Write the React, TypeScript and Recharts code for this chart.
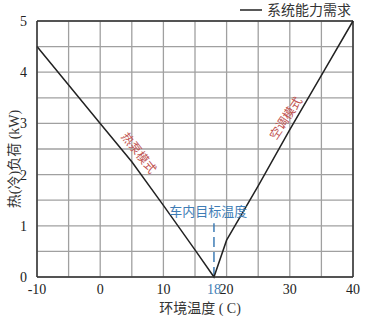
import { LineChart, Line, XAxis, YAxis, CartesianGrid, ReferenceLine, ReferenceDot, Legend } from "recharts";

const temps = [-10, -5, 0, 5, 10, 15, 18, 20, 25, 30, 35, 40];
const loads = [4.5, 3.75, 3.0, 2.25, 1.4, 0.53, 0, 0.72, 1.78, 2.88, 3.94, 5];

const xTicks = [-10, 0, 10, 18, 20, 30, 40];
const yTicks = [0, 1, 2, 3, 4, 5];
const xGrid = [-10, -5, 0, 5, 10, 15, 20, 25, 30, 35, 40];
const yGrid = [0, 0.5, 1, 1.5, 2, 2.5, 3, 3.5, 4, 4.5, 5];

const seriesName = "系统能力需求";
const xTitle = "环境温度 ( C)";
const yTitle = "热(冷)负荷 (kW)";
const targetTemp = 18;

const data = temps.map((t, i) => ({ temp: t, load: loads[i] }));

const FONT = "Liberation Serif, DejaVu Serif, Noto Sans CJK SC, serif";
const RED = "#c0504d";
const BLUE = "#3f7db5";
const GRID = "#a0a0a0";

function XTick(props: any) {
  const { x, y, payload } = props;
  const v = payload.value;
  return (
    <text x={x} y={y + 9} textAnchor="middle" style={{ fontSize: 14, fontFamily: FONT }} fill={v === targetTemp ? BLUE : "#222"}>
      {v}
    </text>
  );
}

function YTick(props: any) {
  const { x, y, payload } = props;
  return (
    <text x={x} y={y + 5} textAnchor="end" style={{ fontSize: 14, fontFamily: FONT }} fill="#222">
      {payload.value}
    </text>
  );
}

function RotatedText(text: string, angle: number, color: string, size: number) {
  return (props: any) => {
    const { viewBox } = props;
    const cx = viewBox.x + (viewBox.width || 0) / 2;
    const cy = viewBox.y + (viewBox.height || 0) / 2;
    return (
      <text
        x={cx}
        y={cy}
        textAnchor="middle"
        dominantBaseline="central"
        style={{ fontSize: size, fontFamily: FONT }}
        fill={color}
        transform={`rotate(${angle} ${cx} ${cy})`}
      >
        {text}
      </text>
    );
  };
}

function XTitle(props: any) {
  const { viewBox } = props;
  const cx = viewBox.x + viewBox.width / 2 + 5;
  return (
    <text x={cx} y={viewBox.y + 36} textAnchor="middle" style={{ fontSize: 14, fontFamily: FONT }} fill="#333">
      {xTitle}
    </text>
  );
}

function YTitle(props: any) {
  const { viewBox } = props;
  const cy = viewBox.y + viewBox.height / 2 + 10;
  const cx = 14;
  return (
    <text
      x={cx}
      y={cy}
      textAnchor="middle"
      dominantBaseline="central"
      style={{ fontSize: 14, fontFamily: FONT }}
      fill="#333"
      transform={`rotate(-90 ${cx} ${cy})`}
    >
      {yTitle}
    </text>
  );
}

function LegendContent() {
  return (
    <svg width={112} height={20}>
      <line x1={0} y1={10} x2={22} y2={10} stroke="#222" strokeWidth={1.5} />
      <text x={27} y={15} style={{ fontSize: 14, fontFamily: FONT }} fill="#333">
        {seriesName}
      </text>
    </svg>
  );
}

export default function App() {
  return (
    <div style={{ position: "fixed", left: 0, top: 0, width: 370, height: 316, background: "#fff" }}>
      <LineChart width={370} height={316} data={data} margin={{ top: 21, right: 17, left: 0, bottom: 0 }}>
        <CartesianGrid
          stroke={GRID}
          strokeWidth={1.3}
          verticalValues={xGrid}
          horizontalValues={yGrid}
        />
        <XAxis
          type="number"
          dataKey="temp"
          domain={[-10, 40]}
          ticks={xTicks}
          interval={0}
          tick={<XTick />}
          tickLine={false}
          axisLine={{ stroke: "#333", strokeWidth: 1.5 }}
          height={39}
          label={{ content: XTitle }}
        />
        <YAxis
          type="number"
          domain={[0, 5]}
          ticks={yTicks}
          width={37}
          tickLine={false}
          tick={<YTick />}
          tickMargin={4}
          axisLine={{ stroke: "#333", strokeWidth: 1.5 }}
          label={{ content: YTitle }}
        />
        <ReferenceLine segment={[{ x: -10, y: 5 }, { x: 40, y: 5 }]} stroke="#333" strokeWidth={1.5} />
        <ReferenceLine segment={[{ x: 40, y: 0 }, { x: 40, y: 5 }]} stroke="#333" strokeWidth={1.5} />
        <ReferenceLine
          segment={[{ x: targetTemp, y: 0 }, { x: targetTemp, y: 1.05 }]}
          stroke={BLUE}
          strokeWidth={1.5}
          strokeDasharray="10 5"
        />
        <Line
          type="linear"
          dataKey="load"
          name={seriesName}
          stroke="#222"
          strokeWidth={1.5}
          dot={false}
          isAnimationActive={false}
        />
        <ReferenceDot x={6.1} y={2.42} r={0} stroke="none" fill="none" label={{ content: RotatedText("热泵模式", 52, RED, 12) }} />
        <ReferenceDot x={29.4} y={3.1} r={0} stroke="none" fill="none" label={{ content: RotatedText("空调模式", -56, RED, 12) }} />
        <ReferenceDot x={17.1} y={1.27} r={0} stroke="none" fill="none" label={{ content: RotatedText("车内目标温度", 0, BLUE, 13) }} />
        <Legend
          layout="horizontal"
          verticalAlign="middle"
          align="center"
          content={<LegendContent />}
          wrapperStyle={{ top: 0, right: 18, left: "auto", width: 112 }}
        />
      </LineChart>
    </div>
  );
}
